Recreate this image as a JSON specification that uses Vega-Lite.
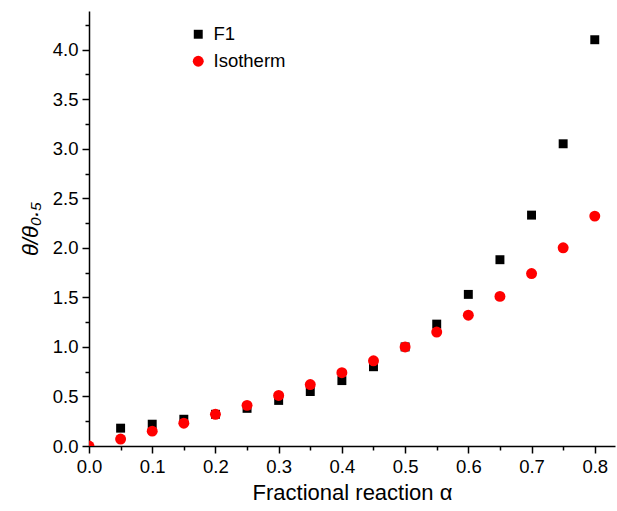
{
  "$schema": "https://vega.github.io/schema/vega-lite/v6.json",
  "autosize": "none",
  "width": 526,
  "height": 435,
  "padding": {"left": 89, "top": 11, "right": 2, "bottom": 65},
  "background": "white",
  "config": {
    "view": {"stroke": null},
    "font": "Liberation Sans"
  },
  "data": {
    "values": [
      {"a": 0.05, "v": 0.18, "s": "F1"},
      {"a": 0.10, "v": 0.22, "s": "F1"},
      {"a": 0.15, "v": 0.27, "s": "F1"},
      {"a": 0.20, "v": 0.32, "s": "F1"},
      {"a": 0.25, "v": 0.38, "s": "F1"},
      {"a": 0.30, "v": 0.46, "s": "F1"},
      {"a": 0.35, "v": 0.55, "s": "F1"},
      {"a": 0.40, "v": 0.66, "s": "F1"},
      {"a": 0.45, "v": 0.80, "s": "F1"},
      {"a": 0.50, "v": 1.00, "s": "F1"},
      {"a": 0.55, "v": 1.23, "s": "F1"},
      {"a": 0.60, "v": 1.53, "s": "F1"},
      {"a": 0.65, "v": 1.88, "s": "F1"},
      {"a": 0.70, "v": 2.33, "s": "F1"},
      {"a": 0.75, "v": 3.05, "s": "F1"},
      {"a": 0.80, "v": 4.10, "s": "F1"},
      {"a": 0.00, "v": 0.00, "s": "Isotherm"},
      {"a": 0.05, "v": 0.07, "s": "Isotherm"},
      {"a": 0.10, "v": 0.15, "s": "Isotherm"},
      {"a": 0.15, "v": 0.23, "s": "Isotherm"},
      {"a": 0.20, "v": 0.32, "s": "Isotherm"},
      {"a": 0.25, "v": 0.41, "s": "Isotherm"},
      {"a": 0.30, "v": 0.51, "s": "Isotherm"},
      {"a": 0.35, "v": 0.62, "s": "Isotherm"},
      {"a": 0.40, "v": 0.74, "s": "Isotherm"},
      {"a": 0.45, "v": 0.86, "s": "Isotherm"},
      {"a": 0.50, "v": 1.00, "s": "Isotherm"},
      {"a": 0.55, "v": 1.15, "s": "Isotherm"},
      {"a": 0.60, "v": 1.32, "s": "Isotherm"},
      {"a": 0.65, "v": 1.51, "s": "Isotherm"},
      {"a": 0.70, "v": 1.74, "s": "Isotherm"},
      {"a": 0.75, "v": 2.00, "s": "Isotherm"},
      {"a": 0.80, "v": 2.32, "s": "Isotherm"}
    ]
  },
  "mark": {"type": "point", "filled": true, "opacity": 1, "clip": true},
  "encoding": {
    "x": {
      "field": "a", "type": "quantitative",
      "scale": {"domain": [0, 0.832], "nice": false, "zero": false},
      "axis": {
        "title": "Fractional reaction α",
        "titleFontSize": 22, "titleFontWeight": "normal", "titleColor": "black", "titlePadding": 7,
        "values": [0, 0.05, 0.1, 0.15, 0.2, 0.25, 0.3, 0.35, 0.4, 0.45, 0.5, 0.55, 0.6, 0.65, 0.7, 0.75, 0.8],
        "labelExpr": "round(datum.value*20) % 2 === 0 ? format(datum.value, '.1f') : ''",
        "labelFontSize": 18.5, "labelColor": "black", "labelPadding": 4,
        "tickSize": {"condition": {"test": "round(datum.value*20) % 2 === 0", "value": 7}, "value": 4},
        "tickColor": "black", "tickWidth": 1.5,
        "domainColor": "black", "domainWidth": 1.5,
        "grid": false, "labelFlush": false
      }
    },
    "y": {
      "field": "v", "type": "quantitative",
      "scale": {"domain": [0, 4.39], "nice": false},
      "axis": {
        "title": "θ/θ₀.₅",
        "titleFontSize": 22, "titleFontWeight": "normal", "titleColor": "black", "titlePadding": 10,
        "titleFontStyle": "italic",
        "values": [0, 0.25, 0.5, 0.75, 1, 1.25, 1.5, 1.75, 2, 2.25, 2.5, 2.75, 3, 3.25, 3.5, 3.75, 4, 4.25],
        "labelExpr": "round(datum.value*4) % 2 === 0 ? format(datum.value, '.1f') : ''",
        "labelFontSize": 18.5, "labelColor": "black", "labelPadding": 4,
        "tickSize": {"condition": {"test": "round(datum.value*4) % 2 === 0", "value": 7}, "value": 4},
        "tickColor": "black", "tickWidth": 1.5,
        "domainColor": "black", "domainWidth": 1.5,
        "grid": false, "labelFlush": false
      }
    },
    "shape": {
      "field": "s", "type": "nominal",
      "scale": {"domain": ["F1", "Isotherm"], "range": ["square", "circle"]},
      "legend": {
        "title": null, "orient": "none", "legendX": 100, "legendY": 14,
        "labelFontSize": 18.5, "labelColor": "black",
        "rowPadding": 8, "labelOffset": 6
      }
    },
    "color": {
      "field": "s", "type": "nominal",
      "scale": {"domain": ["F1", "Isotherm"], "range": ["black", "#ff0000"]},
      "legend": {
        "title": null, "orient": "none", "legendX": 100, "legendY": 14,
        "labelFontSize": 18.5, "labelColor": "black",
        "rowPadding": 8, "labelOffset": 6
      }
    },
    "size": {
      "field": "s", "type": "nominal",
      "scale": {"domain": ["F1", "Isotherm"], "range": [80, 120]},
      "legend": {
        "title": null, "orient": "none", "legendX": 100, "legendY": 14,
        "labelFontSize": 18.5, "labelColor": "black",
        "rowPadding": 8, "labelOffset": 6
      }
    }
  }
}
